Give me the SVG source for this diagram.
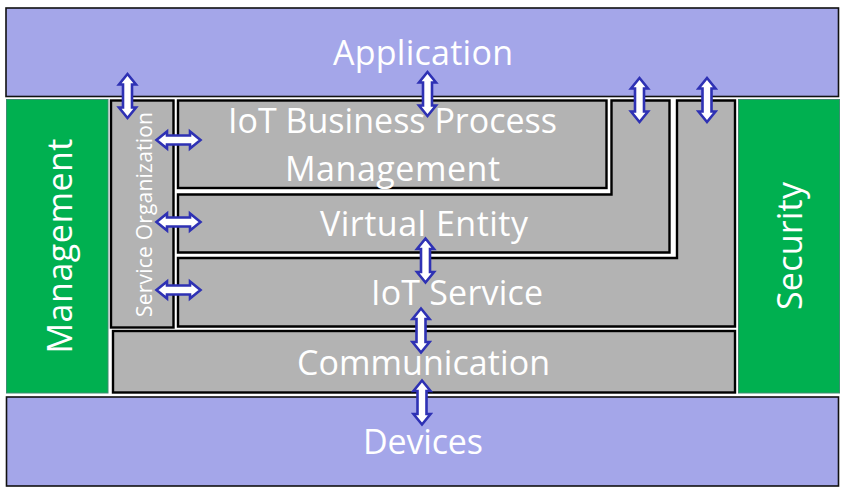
<svg xmlns="http://www.w3.org/2000/svg" xmlns:xlink="http://www.w3.org/1999/xlink" width="846" height="492" viewBox="0 0 846 492">
<style>
.blue{fill:#A4A6E9;stroke:#111;stroke-width:1.6}
.green{fill:#00B050;stroke:#3C8C70;stroke-width:1}
.gray{fill:#B3B3B3;stroke:#000;stroke-width:2.4;stroke-linejoin:miter}
.t{font-family:"Open Sans","Liberation Sans",sans-serif;fill:#FFFFFF;font-size:34px;text-anchor:middle}
.s{font-size:21px}
.arr{fill:#FFFFFF;stroke:#2E31B4;stroke-width:2.6;stroke-linejoin:miter}
</style>
<defs>
<polygon id="dv" class="arr" points="0,-22 8.5,-11.5 4.5,-11.5 4.5,11.5 8.5,11.5 0,22 -8.5,11.5 -4.5,11.5 -4.5,-11.5 -8.5,-11.5"/>
</defs>
<rect width="846" height="492" fill="#FFFFFF"/>
<g id="application">
<rect class="blue" x="6" y="8" width="832.5" height="88.5"/>
<text class="t" x="423" y="65" textLength="180" lengthAdjust="spacing">Application</text>
</g>
<g id="management">
<rect class="green" x="6.5" y="99.5" width="101.5" height="293.5"/>
<text class="t" transform="translate(72,246) rotate(-90)" textLength="215" lengthAdjust="spacing">Management</text>
</g>
<g id="security">
<rect class="green" x="738.5" y="99.5" width="101" height="293.5"/>
<text class="t" transform="translate(802,246) rotate(-90)" textLength="128" lengthAdjust="spacing">Security</text>
</g>
<g id="devices">
<rect class="blue" x="6.5" y="397" width="832" height="89"/>
<text class="t" x="423" y="454" textLength="120" lengthAdjust="spacing">Devices</text>
</g>
<g id="service-organization">
<rect class="gray" x="111" y="100.5" width="62.5" height="227"/>
<text class="t s" transform="translate(152,214.5) rotate(-90)" textLength="205" lengthAdjust="spacing">Service Organization</text>
</g>
<g id="iot-service">
<path class="gray" d="M677,100.5 H735 V326.5 H178 V258 H677 Z"/>
<text class="t" x="457" y="305" textLength="172" lengthAdjust="spacing">IoT Service</text>
</g>
<g id="virtual-entity">
<path class="gray" d="M611.5,100.5 H669.5 V252.5 H178 V194.5 H611.5 Z"/>
<text class="t" x="424" y="236" textLength="208" lengthAdjust="spacing">Virtual Entity</text>
</g>
<g id="iot-business-process-management">
<rect class="gray" x="178" y="100.5" width="428.5" height="87.5"/>
<text class="t" x="392.5" y="133" textLength="329" lengthAdjust="spacing">IoT Business Process</text>
<text class="t" x="392.5" y="181" textLength="215" lengthAdjust="spacing">Management</text>
</g>
<g id="communication">
<rect class="gray" x="113" y="331" width="622" height="61.5"/>
<text class="t" x="423.5" y="375" textLength="253" lengthAdjust="spacing">Communication</text>
</g>
<g id="connectors">
<use xlink:href="#dv" transform="translate(127.5,96)"/>
<use xlink:href="#dv" transform="translate(427.5,94)"/>
<use xlink:href="#dv" transform="translate(639.5,100)"/>
<use xlink:href="#dv" transform="translate(707,100)"/>
<use xlink:href="#dv" transform="translate(178.5,140) rotate(90)"/>
<use xlink:href="#dv" transform="translate(178.5,222) rotate(90)"/>
<use xlink:href="#dv" transform="translate(178.5,290) rotate(90)"/>
<use xlink:href="#dv" transform="translate(425.5,260.5)"/>
<use xlink:href="#dv" transform="translate(421,330.5)"/>
<use xlink:href="#dv" transform="translate(422,402.5)"/>
</g>
</svg>
